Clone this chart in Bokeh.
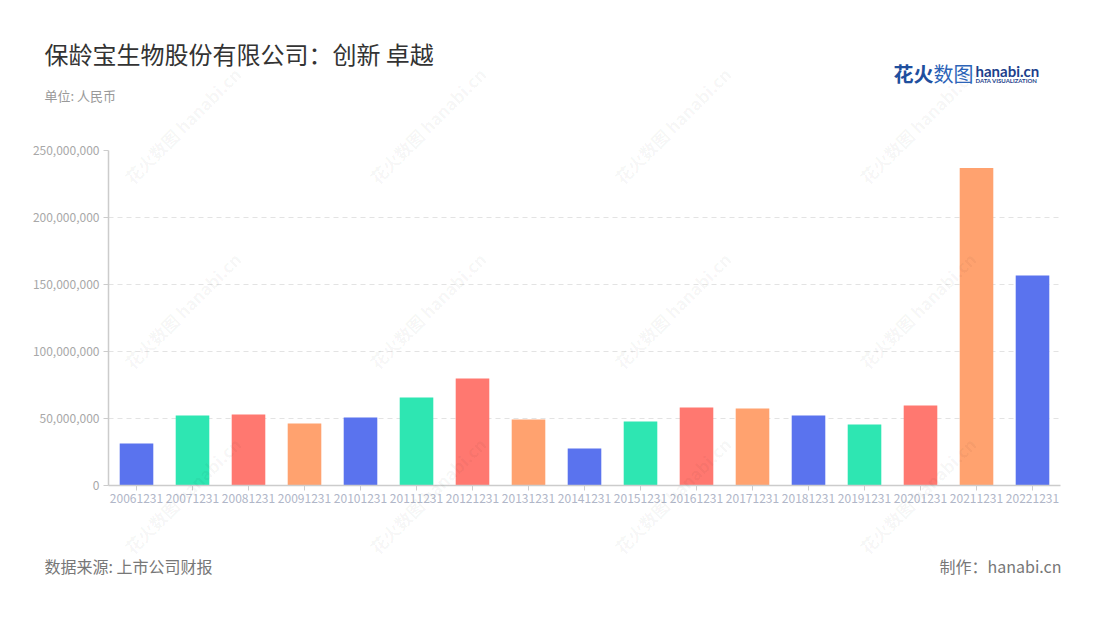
from bokeh.plotting import figure
from bokeh.models import (ColumnDataSource, FactorRange, Range1d, FixedTicker,
                          NumeralTickFormatter, Label)
from bokeh.embed import file_html
from bokeh.resources import INLINE

categories = ["20061231", "20071231", "20081231", "20091231", "20101231",
              "20111231", "20121231", "20131231", "20141231", "20151231",
              "20161231", "20171231", "20181231", "20191231", "20201231",
              "20211231", "20221231"]
values = [31.3e6, 52.2e6, 53.0e6, 46.3e6, 50.7e6,
          65.7e6, 79.9e6, 49.3e6, 27.6e6, 47.8e6,
          58.2e6, 57.5e6, 52.2e6, 45.5e6, 59.7e6,
          237.0e6, 156.7e6]
y_ticks = [0, 50e6, 100e6, 150e6, 200e6, 250e6]
palette = ["#5a73ee", "#2ee6b2", "#ff7870", "#ffa26f"]

title_text = "保龄宝生物股份有限公司：创新 卓越"
unit_text = "单位: 人民币"
source_text = "数据来源: 上市公司财报"
maker_text = "制作：hanabi.cn"
watermark_text = "花火数图 hanabi.cn"

FONT = "Noto Sans CJK SC"
W, H = 1100, 615

colors = [palette[i % len(palette)] for i in range(len(categories))]
src = ColumnDataSource(dict(cat=categories, val=values, color=colors))

# ---------- main chart ----------
p = figure(width=W, height=H,
           x_range=FactorRange(*categories), y_range=Range1d(0, 250e6),
           output_backend="svg", toolbar_location=None,
           min_border_left=108, min_border_right=40,
           min_border_top=150, min_border_bottom=H - 485)
p.outline_line_color = None
p.background_fill_color = "white"
p.border_fill_color = "white"

p.vbar(x="cat", top="val", width=0.6, color="color", line_color=None, source=src)

p.yaxis.ticker = FixedTicker(ticks=y_ticks)
p.yaxis.formatter = NumeralTickFormatter(format="0,0")
for ax in (p.xaxis, p.yaxis):
    ax.axis_line_color = "#cccccc"
    ax.axis_line_width = 1.5
    ax.major_tick_line_color = "#cccccc"
    ax.major_tick_in = 0
    ax.major_tick_out = 5
    ax.minor_tick_line_color = None
    ax.major_label_text_font = FONT
    ax.major_label_text_font_size = "12px"
    ax.major_label_standoff = 4
p.xaxis.major_label_text_color = "#b0b6c8"
p.yaxis.major_label_text_color = "#a8a8a8"
p.xaxis.major_label_standoff = 3

p.xgrid.grid_line_color = None
p.ygrid.grid_line_color = "#e3e3e3"
p.ygrid.grid_line_dash = "5 4"
p.ygrid.grid_line_width = 1.2

# ---------- transparent text layer laid over the chart ----------
ov = figure(width=W, height=H, x_range=Range1d(0, 1), y_range=Range1d(0, 1),
            x_axis_type=None, y_axis_type=None, output_backend="svg",
            toolbar_location=None, min_border=0,
            styles={"margin-top": f"-{H}px", "pointer-events": "none"})
ov.outline_line_color = None
ov.background_fill_color = None
ov.border_fill_color = None


def lab(px, py, text, **kw):
    opts = dict(x_units="screen", y_units="screen", text_font=FONT,
                text_baseline="middle", text_align="left")
    opts.update(kw)
    ov.add_layout(Label(x=px, y=H - py, text=text, **opts))


for wy in (125, 310, 495):
    for wx in (182, 427, 672, 917):
        lab(wx, wy, watermark_text, text_align="center", angle=45,
            angle_units="deg", text_font_size="17px", text_font_style="bold",
            text_color="#000000", text_alpha=0.045)

lab(44, 53, title_text, text_font_size="24px", text_color="#333333")
lab(44, 95, unit_text, text_font_size="13px", text_color="#999999")
lab(893, 73, "花火", text_font_size="20px", text_font_style="bold", text_color="#1f4f9e")
lab(933, 73, "数图", text_font_size="20px", text_color="#2c64b8")
lab(975, 70, "hanabi.cn", text_font_size="15px", text_font_style="bold",
    text_color="#1d3f8c", text_font="Lato")
lab(975, 80, "DATA VISUALIZATION", text_font_size="6px", text_font_style="bold",
    text_color="#1d3f8c", text_font="Lato")
lab(44, 565, source_text, text_font_size="16px", text_color="#777777")
lab(1061, 565, maker_text, text_font_size="16px", text_color="#777777", text_align="right")

open("out.html", "w").write(file_html([p, ov], INLINE))
